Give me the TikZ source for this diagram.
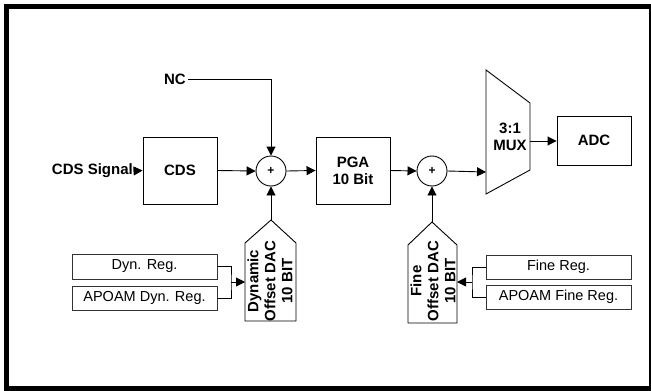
\documentclass[tikz,border=0pt]{standalone}
\usepackage{fontspec}
\setmainfont{Liberation Sans}
\usetikzlibrary{arrows.meta}
\newcommand{\lblsize}{\fontsize{14.5}{17}\selectfont}
\newcommand{\boldsize}{\fontsize{15}{17}\selectfont}
\tikzset{
	boldlbl/.style={font=\boldsize\bfseries},
	blockbox/.style={draw, line width=0.9pt, minimum width=74pt, minimum height=67pt,
		inner sep=0pt, align=center, boldlbl},
	regbox/.style={draw=black!80, line width=0.9pt, minimum width=145pt, minimum height=24pt,
		inner sep=0pt, font=\lblsize},
	sumnode/.style={draw, circle, line width=0.9pt, minimum size=30pt, inner sep=0pt,
		font=\fontsize{12}{14}\selectfont\bfseries},
	flow/.style={line width=0.9pt, -{Triangle[length=9pt,width=9pt]}},
	wire/.style={line width=0.9pt}
}
\begin{document}
\begin{tikzpicture}[x=1pt, y=-1pt, font=\lblsize]
		\useasboundingbox (0,0) rectangle (651,391);
		% Marco exterior
		\draw[line width=5pt] (6,6.5) rectangle (651,388.5);
		% Cadena principal
		\node[blockbox] (cds) at (180,170.5) {CDS};
		\node[sumnode] (sum1) at (271,171) {+};
		\node[blockbox] (pga) at (353,170.5) {PGA\\10 Bit};
		\node[sumnode] (sum2) at (432,171) {+};
		\node[blockbox, minimum height=49pt] (adc) at (594,140.5) {ADC};
		\node[boldlbl, anchor=east, inner sep=0pt] (cdssig) at (133,171) {CDS Signal};
		\node[boldlbl, inner sep=2pt] (nc) at (175,79) {NC};
		% Multiplexor 3:1
		\draw[line width=0.9pt] (486,70) -- (530,103) -- (530,170) -- (486,194) -- cycle;
		\node[boldlbl, align=center] (mux) at (510,137) {3:1\\MUX};
		\coordinate (muxin) at (486,172);
		\coordinate (muxout) at (530,141);
		% DAC de offset dinamico
		\draw[line width=0.9pt] (245,321) -- (245,243) -- (271,220) -- (296,243) -- (296,321) -- cycle;
		\node[boldlbl, align=center, rotate=90] (dyndac) at (270,281)
			{Dynamic\\Offset DAC\\10 BIT};
		\coordinate (dyntop) at (271,220);
		\coordinate (dynin) at (245,282);
		% DAC de offset fino
		\draw[line width=0.9pt] (408,323) -- (408,245) -- (432,222) -- (457,245) -- (457,323) -- cycle;
		\node[boldlbl, align=center, rotate=90] (finedac) at (433,281)
			{Fine\\Offset DAC\\10 BIT};
		\coordinate (finetop) at (432,222);
		\coordinate (finein) at (457,282);
		% Registros
		\node[regbox, minimum height=25pt] (dynreg) at (144.5,266.5) {Dyn. Reg.};
		\node[regbox] (apdyn) at (144.5,298) {APOAM Dyn. Reg.};
		\node[regbox] (finereg) at (558.5,267) {Fine Reg.};
		\node[regbox] (apfine) at (558.5,297) {APOAM Fine Reg.};
		\coordinate (dynjoin) at (231,282);
		\coordinate (finejoin) at (472,282);
		% Conexiones
		\draw[flow] (cdssig.east) -- (cds.west);
		\draw[flow] (cds.east) -- (sum1.west);
		\draw[flow] (nc.east) -| (sum1.north);
		\draw[flow] (sum1.east) -- (pga.west);
		\draw[flow] (dyntop) -- (sum1.south);
		\draw[flow] (pga.east) -- (sum2.west);
		\draw[flow] (finetop) -- (sum2.south);
		\draw[flow] (sum2.east) -- (muxin);
		\draw[flow] (muxout) -- (adc.west |- muxout);
		\draw[wire] (dynreg.east) -| (dynjoin) |- (apdyn.east);
		\draw[flow] (dynjoin) -- (dynin);
		\draw[wire] (finereg.west) -| (finejoin) |- (apfine.west);
		\draw[flow] (finejoin) -- (finein);
	\end{tikzpicture}
\end{document}
